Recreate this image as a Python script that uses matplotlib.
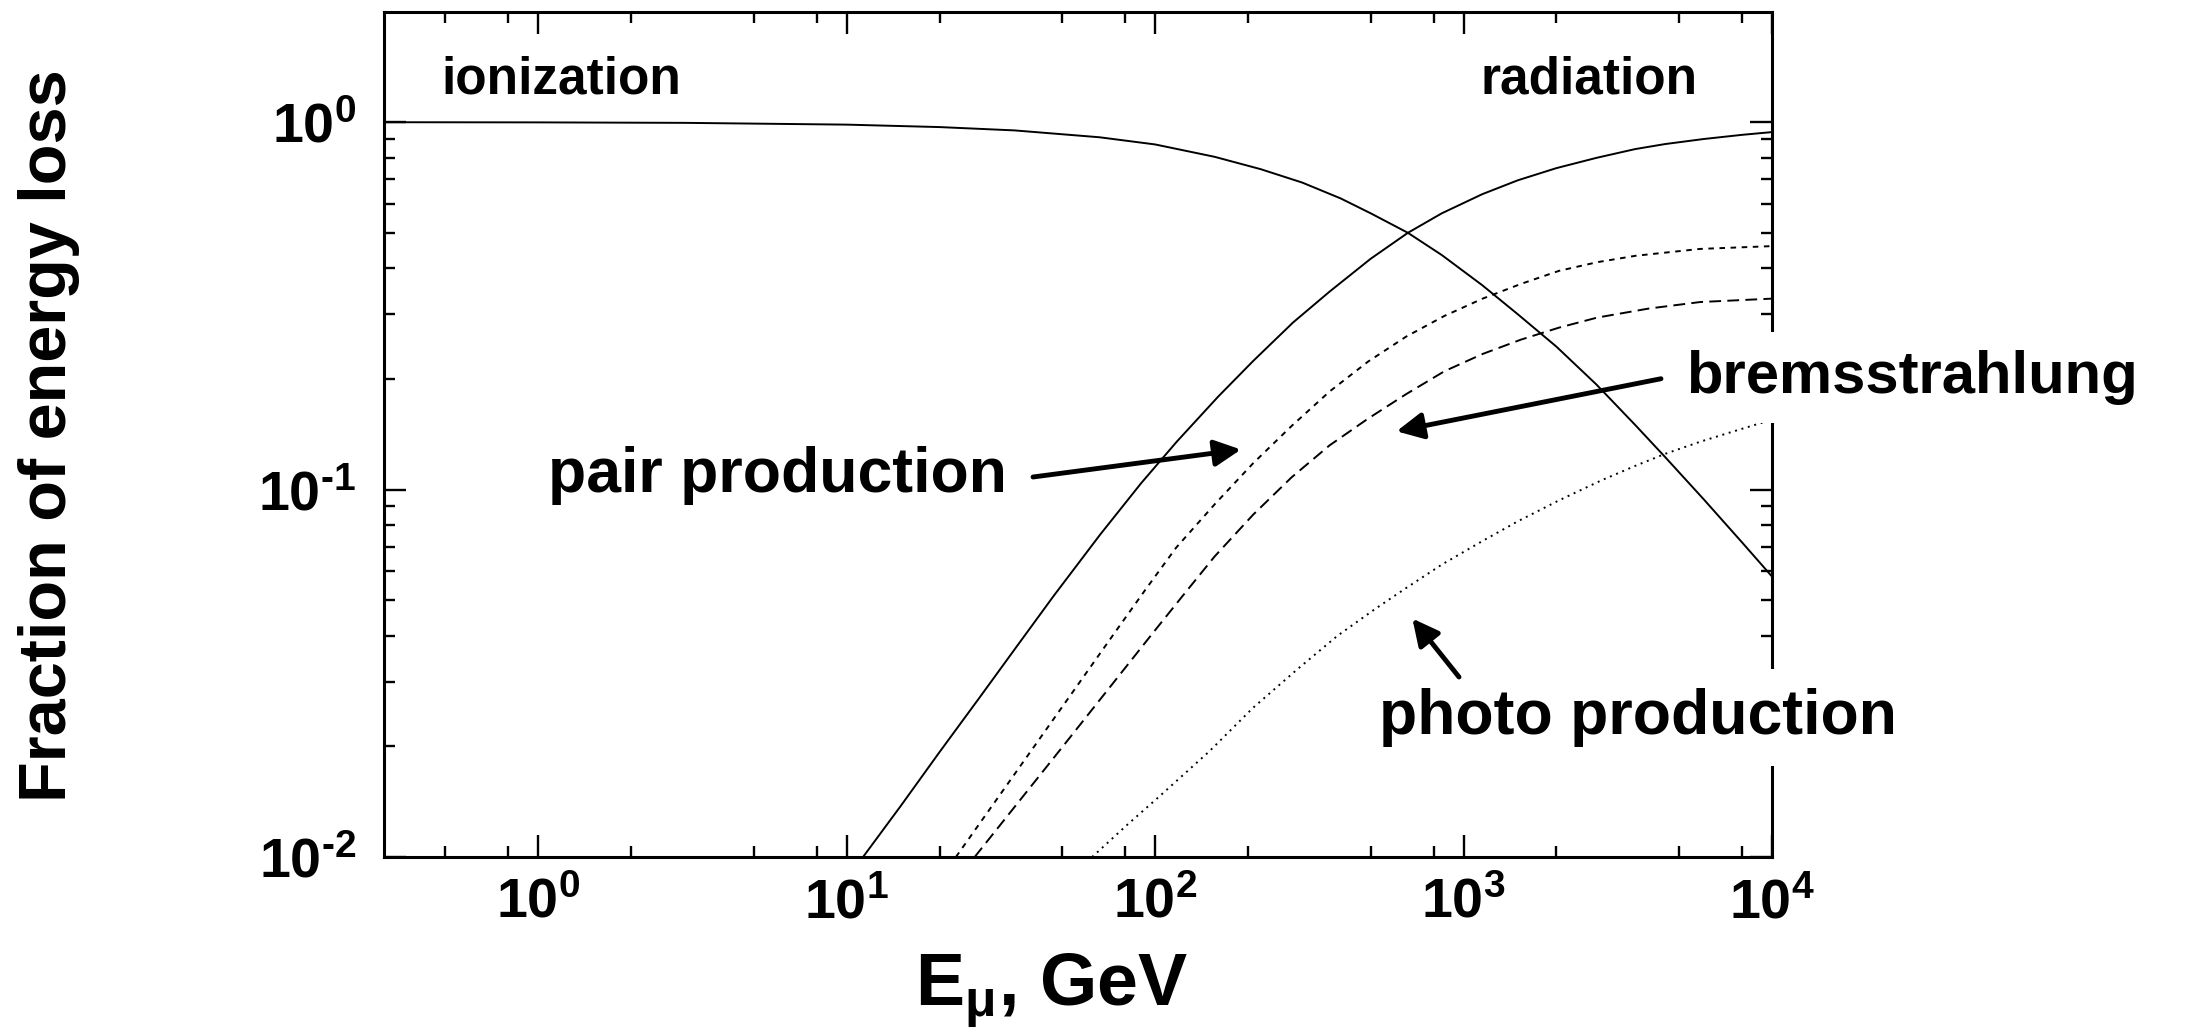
import numpy as np
import matplotlib
matplotlib.use('Agg')
import matplotlib.pyplot as plt
from matplotlib.ticker import LogLocator, NullFormatter

plt.rcParams['font.family'] = ['Liberation Sans', 'DejaVu Sans']
plt.rcParams['font.weight'] = 'bold'
plt.rcParams['mathtext.fontset'] = 'custom'
plt.rcParams['mathtext.rm'] = 'Liberation Sans:bold'
plt.rcParams['mathtext.it'] = 'Liberation Sans:bold'
plt.rcParams['mathtext.bf'] = 'Liberation Sans:bold'
plt.rcParams['lines.scale_dashes'] = False

# ---- values (E in GeV, fraction of energy loss) ----
ion_E = [0.316, 1, 3, 10, 20, 35, 66, 100, 156, 220, 300, 400, 500, 660, 850,
         1150, 1500, 2000, 2700, 3600, 4500, 6000, 8000, 10000]
ion_f = [1.0, 0.999, 0.996, 0.985, 0.97, 0.95, 0.91, 0.87, 0.805, 0.745, 0.685, 0.62, 0.565, 0.50, 0.435,
         0.36, 0.30, 0.245, 0.193, 0.150, 0.1227, 0.0942, 0.0718, 0.058]

rad_E = [11.3, 15, 20, 27, 35, 47, 66.4, 90, 117.5, 160, 208, 280, 368, 500, 660,
         850, 1150, 1500, 2000, 2700, 3600, 4500, 6000, 8000, 10000]
rad_f = [0.01, 0.0138, 0.0193, 0.0272, 0.0367, 0.0515, 0.0755, 0.104, 0.135, 0.179, 0.224, 0.285, 0.346, 0.425, 0.50,
         0.565, 0.637, 0.695, 0.75, 0.80, 0.845, 0.872, 0.90, 0.924, 0.94]

pair_E = [22.6, 40.9, 74.3, 93.3, 117, 156, 208, 277, 368, 490, 652, 867, 1153, 1535,
          2040, 2716, 3614, 5848, 10000]
pair_f = [0.01, 0.0202, 0.041, 0.0536, 0.0695, 0.0912, 0.118, 0.149, 0.185, 0.223, 0.261, 0.297, 0.331, 0.363,
          0.394, 0.416, 0.433, 0.452, 0.46]

brems_E = [26, 50.7, 99, 124.5, 156, 208, 277, 368, 490, 652, 867, 1153, 1535, 2040,
           2716, 3981, 5848, 10000]
brems_f = [0.01, 0.0202, 0.041, 0.0521, 0.0658, 0.0855, 0.108, 0.132, 0.156, 0.182, 0.210, 0.234, 0.256, 0.276,
           0.294, 0.311, 0.324, 0.331]

photo_E = [62.5, 80, 104, 150, 208, 290, 390, 520, 652, 850, 1153, 1500, 2040, 2800,
           3600, 4490, 5850, 7700, 10000]
photo_f = [0.01, 0.0121, 0.0147, 0.0194, 0.0255, 0.0325, 0.040, 0.0475, 0.054, 0.0625, 0.0725, 0.082, 0.0935, 0.106,
           0.116, 0.125, 0.135, 0.145, 0.155]

xticks = [1, 10, 100, 1000, 10000]
xtick_labels = [r'$10^{0}$', r'$10^{1}$', r'$10^{2}$', r'$10^{3}$', r'$10^{4}$']
yticks = [0.01, 0.1, 1]
ytick_labels = [r'$10^{‐2}$', r'$10^{‐1}$', r'$10^{0}$']

fig = plt.figure(figsize=(22.05, 10.35), dpi=100)
ax = fig.add_axes([384/2205, 1-857/1035, 1388/2205, 845/1035])

lw = 1.4
ax.plot(ion_E, ion_f, color='k', lw=lw)
ax.plot(rad_E, rad_f, color='k', lw=lw)
ax.plot(pair_E, pair_f, color='k', lw=lw, linestyle=(0, (4, 4)))
ax.plot(brems_E, brems_f, color='k', lw=lw, linestyle=(0, (8.5, 4.5)))
ax.plot(photo_E, photo_f, color='k', lw=lw, linestyle=(0, (1.4, 3.4)))

ax.set_xscale('log')
ax.set_yscale('log')
ax.set_xlim(10**-0.5, 1e4)
ax.set_ylim(0.01, 10**0.3)

ax.set_xticks(xticks)
ax.set_xticklabels(xtick_labels)
ax.set_yticks(yticks)
ax.set_yticklabels(ytick_labels)
ax.xaxis.set_minor_locator(LogLocator(base=10, subs=[2, 5, 8], numticks=20))
ax.yaxis.set_minor_locator(LogLocator(base=10, subs=np.arange(2, 10), numticks=20))
ax.xaxis.set_minor_formatter(NullFormatter())
ax.yaxis.set_minor_formatter(NullFormatter())

ax.tick_params(which='both', direction='in', top=True, right=True, width=1.7, color='k')
ax.tick_params(which='major', length=16)
ax.tick_params(which='minor', length=8)
ax.tick_params(axis='x', which='major', pad=15, labelsize=40)
ax.tick_params(axis='y', which='major', pad=20, labelsize=40)
for s in ax.spines.values():
    s.set_linewidth(2.2)

fig.text(1052/2205, 1-991/1035, r'E$_{\mu}$, GeV', fontsize=53, ha='center', va='center')
fig.text(49/2205, 1-436/1035, 'Fraction of energy loss', fontsize=48, rotation=90,
         ha='center', va='center')

ax.text(0.1275, 0.904, 'ionization', transform=ax.transAxes, fontsize=37, ha='center', va='baseline')
ax.text(0.868, 0.904, 'radiation', transform=ax.transAxes, fontsize=37, ha='center', va='baseline')
ax.text(0.2831, 0.432, 'pair production', transform=ax.transAxes, fontsize=45, ha='center', va='baseline')
box = dict(boxstyle='square,pad=0.3', fc='white', ec='none')
ax.text(1.1005, 0.549, 'bremsstrahlung', transform=ax.transAxes, fontsize=43, ha='center',
        va='baseline', bbox=box, zorder=10, clip_on=False)
ax.text(0.9035, 0.1456, 'photo production', transform=ax.transAxes, fontsize=45, ha='center',
        va='baseline', bbox=box, zorder=10, clip_on=False)

arrow = dict(arrowstyle='-|>,head_length=0.8,head_width=0.4', color='k', lw=3.5,
             shrinkA=0, shrinkB=0, mutation_scale=20)
ax.annotate('', xy=(0.6174, 0.4822), xytext=(0.4676, 0.4497), xycoords='axes fraction',
            arrowprops=arrow, zorder=11)
ax.annotate('', xy=(0.7295, 0.5038), xytext=(0.9200, 0.5660), xycoords='axes fraction',
            arrowprops=arrow, zorder=11)
ax.annotate('', xy=(0.7409, 0.2822), xytext=(0.7745, 0.2130), xycoords='axes fraction',
            arrowprops=arrow, zorder=11)

fig.savefig('out.png', dpi=100)
